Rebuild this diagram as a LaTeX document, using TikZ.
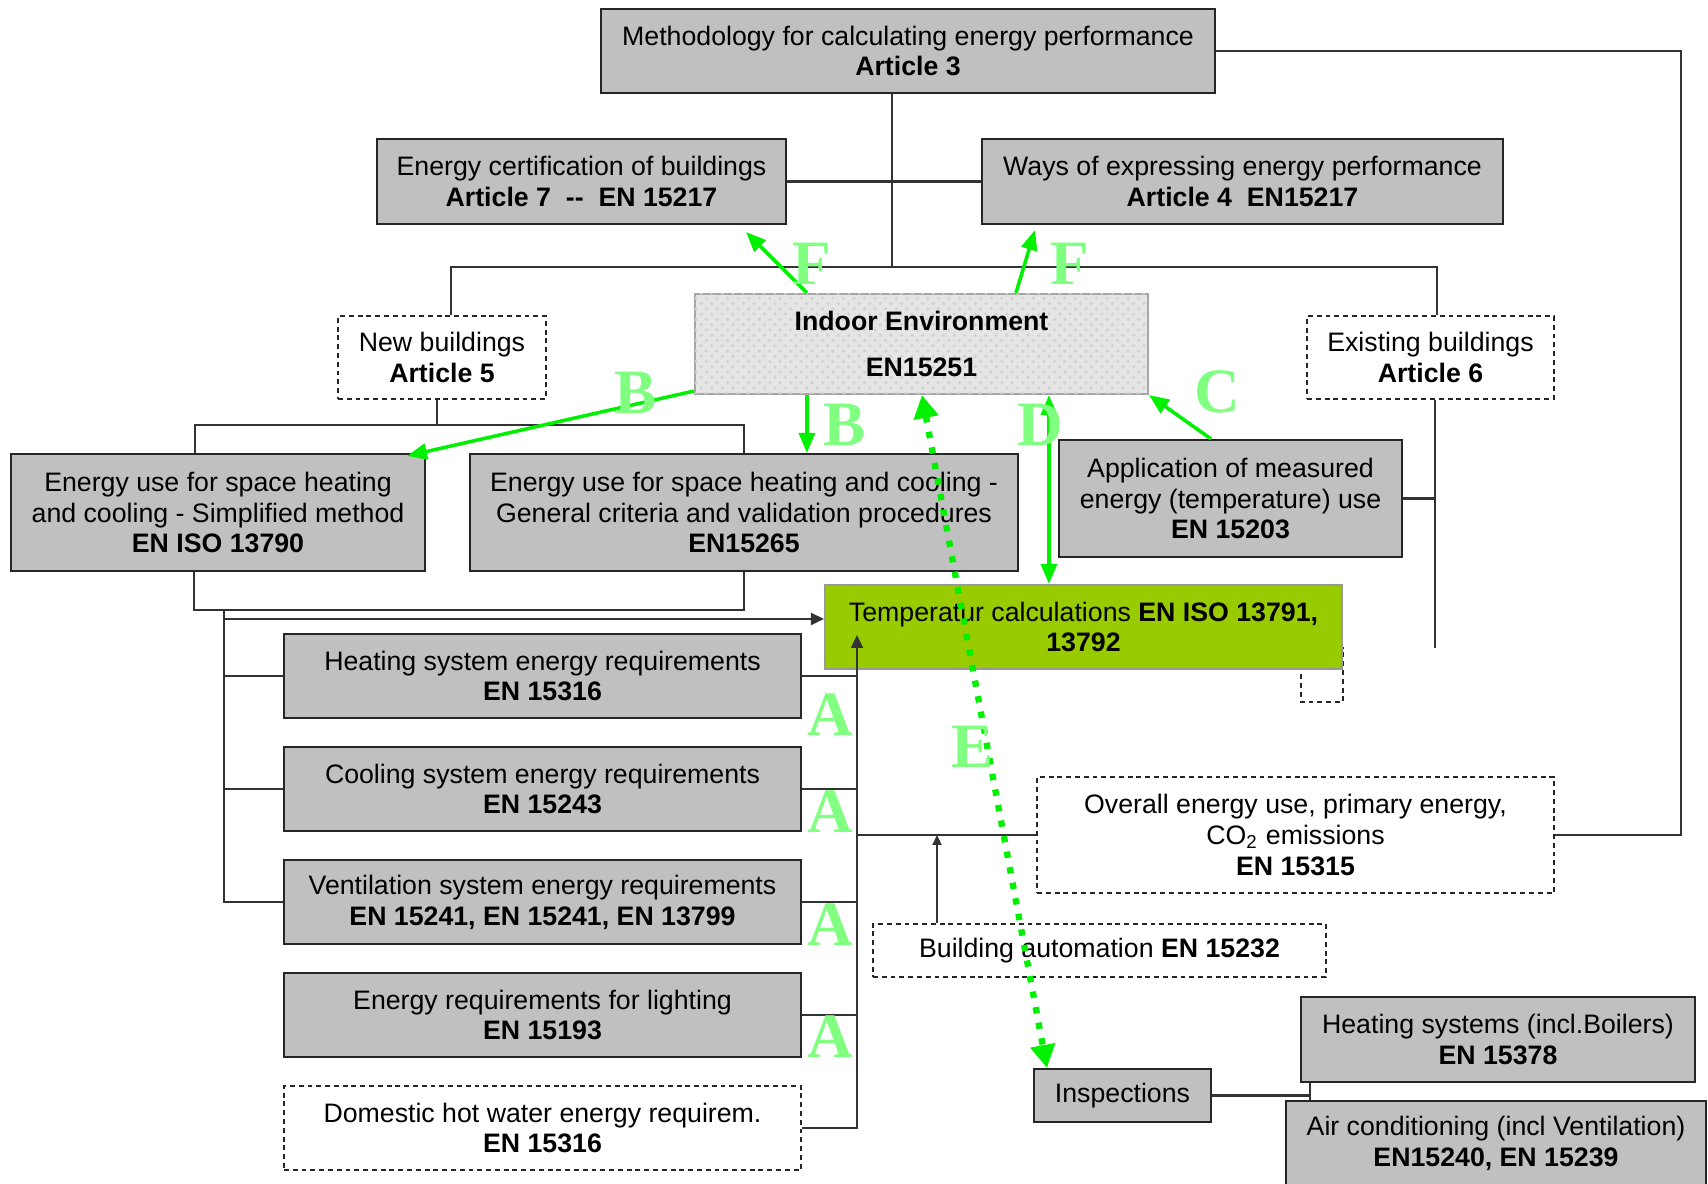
\documentclass[tikz,border=0pt]{standalone}
\usepackage{fontspec}
\setmainfont{Liberation Sans}
\newfontfamily\letterfont{Liberation Serif}
\usetikzlibrary{calc}
\usetikzlibrary{arrows.meta}
\usetikzlibrary{patterns}
\definecolor{boxgray}{RGB}{192,192,192}
\definecolor{tempgreen}{RGB}{153,204,0}
\definecolor{arrgreen}{RGB}{0,240,0}
\definecolor{letgreen}{RGB}{128,255,128}
\tikzset{
  box/.style={draw=black!85, line width=0.6pt, align=center, inner sep=0pt,
    font=\fontsize{7.6}{8.8}\selectfont},
  graybox/.style={box, fill=boxgray},
  dashbox/.style={box, dash pattern=on 1.4pt off 1.1pt, fill=white},
  link/.style={draw=black!80, line width=0.6pt},
  blacktip/.style={-{Triangle[length=1.3mm,width=1.2mm]}},
  garrow/.style={draw=arrgreen, line width=1pt, -{Triangle[length=2mm,width=1.6mm]}},
  gdots/.style={draw=arrgreen, line width=1.8pt, dash pattern=on 1.8pt off 2.7pt,
    {Triangle[length=2.3mm,width=2.4mm]}-{Triangle[length=2.3mm,width=2.4mm]}},
  letter/.style={text=letgreen, inner sep=0pt,
    font=\letterfont\bfseries\fontsize{18}{18}\selectfont}
}

\begin{document}
\begin{tikzpicture}
    \useasboundingbox (0,0) rectangle (17.08,11.84);
    % boxes
    \node[graybox, minimum width=6.14cm, minimum height=0.84cm] (meth) at (9.08,11.33)
        {Methodology for calculating energy performance\\\textbf{Article 3}};
    \node[graybox, minimum width=4.09cm, minimum height=0.85cm] (cert) at (5.815,10.025)
        {Energy certification of buildings\\\textbf{Article 7\ \ -{}-\ \ EN 15217}};
    \node[graybox, minimum width=5.21cm, minimum height=0.85cm] (ways) at (12.425,10.025)
        {Ways of expressing energy performance\\\textbf{Article 4\ \ EN15217}};
    \node[box, draw=black!35, fill=black!10, postaction={pattern=crosshatch dots, pattern color=black!18},
        minimum width=4.53cm, minimum height=1.00cm] (indoor) at (9.215,8.40)
        {\textbf{Indoor Environment}\\[4.5pt]\textbf{EN15251}};
    \node[dashbox, minimum width=2.08cm, minimum height=0.83cm] (newb) at (4.42,8.265)
        {New buildings\\\textbf{Article 5}};
    \node[dashbox, minimum width=2.47cm, minimum height=0.83cm] (exist) at (14.305,8.265)
        {Existing buildings\\\textbf{Article 6}};
    \node[graybox, minimum width=4.14cm, minimum height=1.17cm] (simp) at (2.18,6.715)
        {Energy use for space heating\\and cooling - Simplified method\\\textbf{EN ISO 13790}};
    \node[graybox, minimum width=5.48cm, minimum height=1.17cm] (gen) at (7.44,6.715)
        {Energy use for space heating and cooling -\\General criteria and validation procedures\\\textbf{EN15265}};
    \node[graybox, minimum width=3.43cm, minimum height=1.17cm] (appl) at (12.305,6.855)
        {Application of measured\\energy (temperature) use\\\textbf{EN 15203}};
    \draw[dash pattern=on 1.4pt off 1.1pt, black!85, line width=0.6pt] (13.01,5.36) rectangle (13.43,4.82);
    \node[box, draw=black!40, fill=tempgreen, minimum width=5.17cm, minimum height=0.84cm] (temp) at (10.835,5.57)
        {Temperatur calculations \textbf{EN ISO 13791,}\\\textbf{13792}};
    \node[graybox, minimum width=5.17cm, minimum height=0.84cm] (heat) at (5.425,5.08)
        {Heating system energy requirements\\\textbf{EN 15316}};
    \node[graybox, minimum width=5.17cm, minimum height=0.84cm] (cool) at (5.425,3.95)
        {Cooling system energy requirements\\\textbf{EN 15243}};
    \node[graybox, minimum width=5.17cm, minimum height=0.84cm] (vent) at (5.425,2.82)
        {Ventilation system energy requirements\\\textbf{EN 15241, EN 15241, EN 13799}};
    \node[graybox, minimum width=5.17cm, minimum height=0.84cm] (light) at (5.425,1.69)
        {Energy requirements for lighting\\\textbf{EN 15193}};
    \node[dashbox, minimum width=5.17cm, minimum height=0.84cm] (dhw) at (5.425,0.56)
        {Domestic hot water energy requirem.\\\textbf{EN 15316}};
    \node[dashbox, minimum width=5.17cm, minimum height=1.16cm] (overall) at (12.955,3.49)
        {Overall energy use, primary energy,\\CO\textsubscript{2} emissions\\\textbf{EN 15315}};
    \node[dashbox, minimum width=4.53cm, minimum height=0.53cm] (ba) at (10.995,2.335)
        {Building automation \textbf{EN 15232}};
    \node[graybox, minimum width=1.77cm, minimum height=0.53cm] (insp) at (11.225,0.885)
        {Inspections};
    \node[graybox, minimum width=3.94cm, minimum height=0.85cm] (hsys) at (14.98,1.445)
        {Heating systems (incl.Boilers)\\\textbf{EN 15378}};
    \node[graybox, minimum width=4.2cm, minimum height=0.84cm] (acon) at (14.96,0.41)
        {Air conditioning (incl Ventilation)\\\textbf{EN15240, EN 15239}};

    % connectors at the top
    \coordinate (jmid) at (8.92,9.17);
    \draw[link] (meth.south -| jmid) -- (jmid);
    \draw[link] (cert.east) -- (ways.west);
    \draw[link] ([xshift=0.09cm]newb.north) |- (jmid) -| ([xshift=0.065cm]exist.north);
    \coordinate (rcorner) at (16.81,11.33);
    \draw[link] (meth.east) -- (rcorner) |- (overall.east);

    % new buildings branch
    \coordinate (jnew) at (4.37,7.59);
    \draw[link] (newb.south -| jnew) -- (jnew);
    \draw[link] ([xshift=-0.23cm]simp.north) |- (jnew) -| (gen.north);
    \coordinate (jlow) at (2.24,5.74);
    \draw[link] ([xshift=-0.24cm]simp.south) |- (jlow) -| (gen.south);
    \draw[link] (jlow) |- (vent.west);
    \draw[link] (jlow |- heat.west) -- (heat.west);
    \draw[link] (jlow |- cool.west) -- (cool.west);
    \draw[link, blacktip] ([yshift=0.08cm]temp.west -| jlow) -- ([yshift=0.08cm]temp.west);

    % systems to temperature calculations
    \coordinate (rtip) at (8.57,5.49);
    \draw[link, blacktip] (heat.east) -| (rtip);
    \draw[link] (dhw.east) -| (heat.east -| rtip);
    \draw[link] (cool.east) -- (cool.east -| rtip);
    \draw[link] (vent.east) -- (vent.east -| rtip);
    \draw[link] (light.east) -- (light.east -| rtip);
    \draw[link] (overall.west) -- (overall.west -| rtip);
    \coordinate (bax) at (9.37,0);
    \draw[link, -{Triangle[length=1mm,width=0.9mm]}] (ba.north -| bax) -- (overall.west -| bax);

    % existing buildings
    \coordinate (exend) at (14.35,5.36);
    \draw[link] (exist.south -| exend) -- (exend);
    \draw[link] (appl.east) -- (appl.east -| exend);

    % inspections
    \coordinate (ijn) at (13.10,0.885);
    \draw[link] (insp.east) -- (ijn);
    \draw[link] (hsys.south -| ijn) -- (acon.north -| ijn);

    % green arrows
    \draw[garrow] ($(indoor.north west)+(1.13,0)$) -- ($(cert.south east)+(-0.41,-0.07)$);
    \draw[garrow] ($(indoor.north west)+(3.22,0)$) -- ($(ways.south west)+(0.54,-0.05)$);
    \draw[garrow] ($(indoor.south west)+(0,0.04)$) -- ($(simp.north east)+(-0.19,-0.03)$);
    \coordinate (b2) at ($(indoor.south west)+(1.13,0)$);
    \draw[garrow] (b2) -- (b2 |- gen.north);
    \draw[garrow] ($(appl.north)+(-0.195,0)$) -- (indoor.south east);
    \coordinate (d2) at ($(indoor.south west)+(3.55,0)$);
    \draw[garrow, {Triangle[length=2mm,width=1.6mm]}-{Triangle[length=2mm,width=1.6mm]}] (d2) -- (d2 |- temp.north);
    \draw[gdots] ($(indoor.south west)+(2.28,0)$) -- ($(insp.north west)+(0.14,0)$);

    % letters
    \node[letter] (lf1) at (8.12,9.20) {F};
    \node[letter] (lf2) at (10.70,9.20) {F};
    \node[letter] (lb1) at (6.36,7.91) {B};
    \node[letter] (lb2) at (8.45,7.59) {B};
    \node[letter] (lc) at (12.17,7.92) {C};
    \node[letter] (ld) at (10.40,7.59) {D};
    \node[letter] (le) at (9.73,4.37) {E};
    \node[letter] (la1) at (8.30,4.69) {A};
    \node[letter] (la2) at (8.30,3.72) {A};
    \node[letter] (la3) at (8.30,2.59) {A};
    \node[letter] (la4) at (8.30,1.47) {A};
\end{tikzpicture}
\end{document}
